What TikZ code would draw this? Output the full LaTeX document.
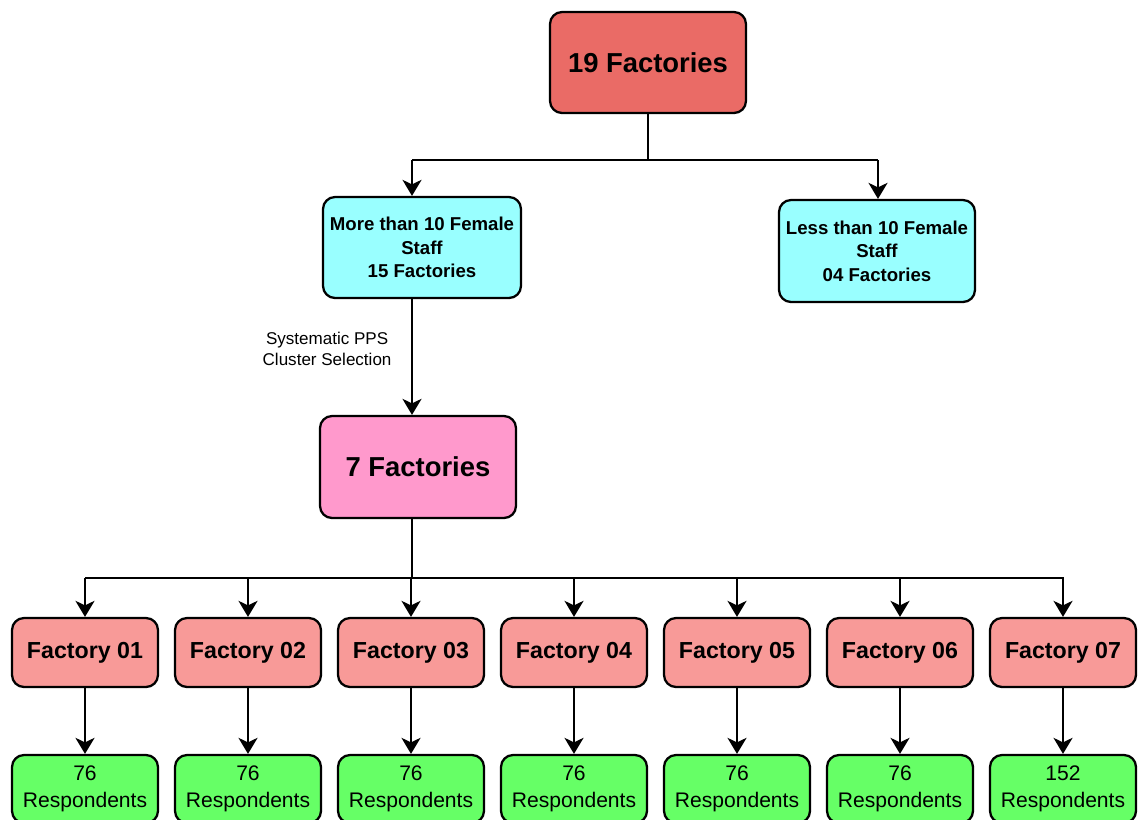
\documentclass[tikz,border=0pt]{standalone}
\usepackage{fontspec}
\setmainfont{Liberation Sans}
\usetikzlibrary{arrows.meta}
\definecolor{topred}{HTML}{EA6B66}
\definecolor{staffcyan}{HTML}{99FFFF}
\definecolor{selpink}{HTML}{FF99CC}
\definecolor{facred}{HTML}{F89A98}
\definecolor{resgreen}{HTML}{66FF66}
\tikzset{
 box/.style={draw, line width=1.3pt, rounded corners=0.24cm, align=center, inner sep=2pt},
 conn/.style={line width=1.3pt, -{Stealth[length=0.32cm,width=0.38cm,inset=0.09cm]}},
 bus/.style={line width=1.3pt},
}
\begin{document}
\begin{tikzpicture}[x=0.02cm, y=-0.02cm, font=\bfseries]
 \useasboundingbox (0,0) rectangle (1147,819);
 % top levels
 \node[box, fill=topred, minimum width=3.92cm, minimum height=2.02cm, font=\bfseries\fontsize{15.6}{19}\selectfont] (all) at (648,62.5) {19 Factories};
 \node[box, fill=staffcyan, minimum width=3.96cm, minimum height=2.02cm, font=\bfseries\fontsize{10.6}{13.3}\selectfont] (more) at (422,247.5) {More than 10 Female\\Staff\\15 Factories};
 \node[box, fill=staffcyan, minimum width=3.92cm, minimum height=2.04cm, font=\bfseries\fontsize{10.6}{13.3}\selectfont] (less) at (877,251) {Less than 10 Female\\Staff\\04 Factories};
 \node[box, fill=selpink, minimum width=3.92cm, minimum height=2.04cm, font=\bfseries\fontsize{15.6}{19}\selectfont] (seven) at (418,467) {7 Factories};
 \coordinate (split) at (648,160);
 \coordinate (lt) at (412,160);
 \coordinate (rt) at (878,160);
 \draw[bus] (all) -- (split);
 \draw[bus] (lt) -- (rt);
 \draw[conn] (lt) -- (lt |- more.north);
 \draw[conn] (rt) -- (rt |- less.north);
 \draw[conn] (lt |- more.south) -- (lt |- seven.north)
  node[pos=0.43, left=0.27cm, font=\fontsize{9.7}{11.9}\selectfont, align=center] {Systematic PPS\\Cluster Selection};
 % factories and respondents
 \coordinate (fork) at (412,578);
 \draw[bus] (fork |- seven.south) -- (fork);
 \draw[bus] (85,578) -- (1064,578);
 \foreach \i/\n in {1/76,2/76,3/76,4/76,5/76,6/76,7/152} {
  \pgfmathsetmacro{\cx}{85+163*(\i-1)}
  \node[box, fill=facred, minimum width=2.92cm, minimum height=1.38cm, font=\bfseries\fontsize{13.2}{16}\selectfont] (f\i) at (\cx,652.5) {Factory 0\i};
  \node[box, fill=resgreen, minimum width=2.92cm, minimum height=1.36cm, font=\fontsize{12}{15.3}\selectfont] (r\i) at (\cx,789) {\n\\Respondents};
  \draw[conn] (\cx,578) -- (f\i);
  \draw[conn] (f\i) -- (r\i);
 }
\end{tikzpicture}
\end{document}
